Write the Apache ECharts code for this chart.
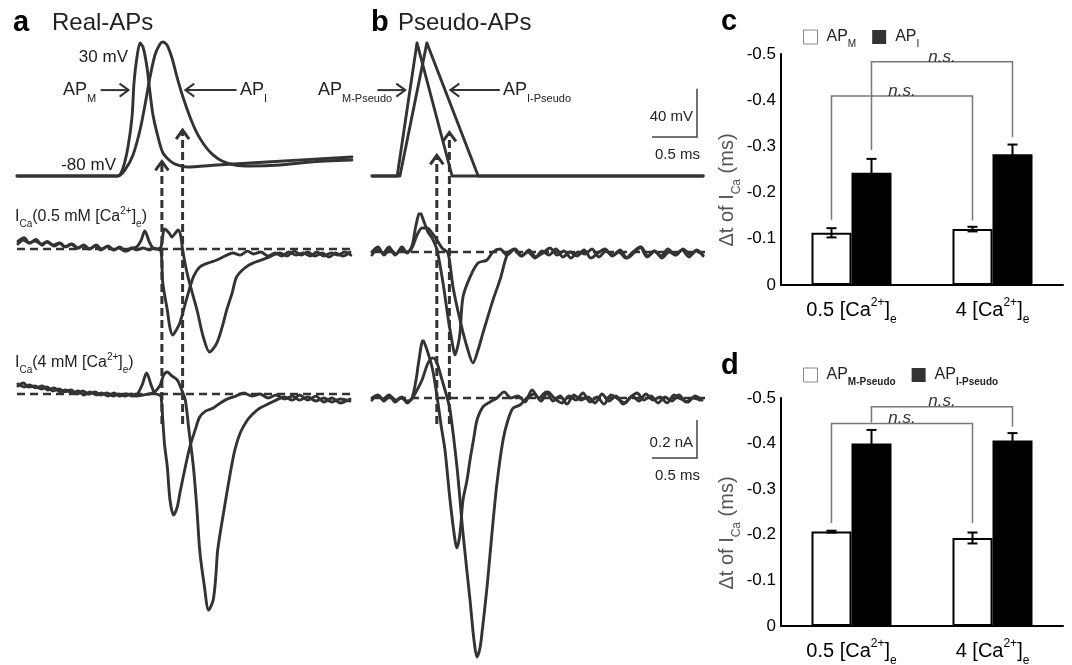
<!DOCTYPE html>
<html>
<head>
<meta charset="utf-8">
<title>Real vs pseudo action potentials and I_Ca timing</title>
<script src="https://cdn.jsdelivr.net/npm/echarts@6/dist/echarts.min.js"></script>
<style>
  html, body { margin: 0; padding: 0; background: #fff; }
  #chart { width: 1072px; height: 665px; }
</style>
</head>
<body>
<div id="chart"></div>
<script>
// ---------- Voltage traces (time in ms, membrane potential in mV) ----------
const apRealM = [[0,-80],[1.122,-80],[1.178,-73.4],[1.233,-56],[1.278,-31.2],[1.3,-3.1],[1.333,18.3],[1.367,29.9],[1.4,26.6],[1.444,10.1],[1.478,-11.4],[1.511,-29.6],[1.556,-44.5],[1.622,-61],[1.733,-69.3],[1.889,-72.6],[2.222,-70.9],[2.778,-68.4],[3.722,-64.3]];
const apRealI = [[0,-80],[1.122,-80],[1.2,-75],[1.289,-62.6],[1.367,-42],[1.422,-21.3],[1.478,1.8],[1.533,20],[1.589,29.1],[1.622,30.7],[1.667,28.3],[1.722,17.5],[1.778,1.8],[1.844,-14.7],[1.922,-31.2],[2.0,-44.5],[2.089,-55.2],[2.178,-62.6],[2.278,-67.6],[2.422,-70.9],[2.589,-71.7],[2.922,-70.9],[3.256,-68.4],[3.722,-66.8]];
const apPseudoM = [[0,-80],[0.28,-80],[0.5,30],[0.89,-80],[3.68,-80]];
const apPseudoI = [[0,-80],[0.31,-80],[0.61,30],[1.18,-80],[3.68,-80]];

// ---------- Ca2+ currents (time in ms, current in nA) ----------
const icaRealM05 = [[0.01,0.04],[0.08,0.06],[0.14,0.03],[0.21,0.05],[0.28,0.02],[0.34,0.04],[0.41,0.016],[0.48,0.03],[0.54,0.011],[0.61,0.026],[0.68,0.005],[0.74,0.021],[0.81,0],[0.88,0.021],[0.94,0],[1.01,0.016],[1.08,-0.005],[1.14,0.011],[1.21,-0.011],[1.28,0.005],[1.33,0.011],[1.38,0.047],[1.42,0.095],[1.47,0.037],[1.51,0.005],[1.56,0],[1.6,-0.011],[1.62,-0.179],[1.67,-0.321],[1.7,-0.416],[1.73,-0.453],[1.77,-0.426],[1.81,-0.389],[1.89,-0.253],[1.96,-0.147],[2.03,-0.095],[2.12,-0.074],[2.22,-0.058],[2.31,-0.037],[2.4,-0.021],[2.48,-0.032],[2.56,-0.011],[2.63,-0.026],[2.71,-0.016],[2.79,-0.037],[2.87,-0.021],[2.94,-0.037],[3.02,-0.016],[3.1,-0.032],[3.18,-0.021],[3.26,-0.037],[3.33,-0.016],[3.41,-0.037],[3.49,-0.021],[3.57,-0.032],[3.64,-0.016],[3.71,-0.032]];
const icaRealI05 = [[0.01,0.026],[0.07,0.047],[0.13,0.032],[0.2,0.042],[0.27,0.026],[0.33,0.037],[0.4,0.021],[0.47,0.032],[0.53,0.011],[0.6,0.026],[0.67,0.005],[0.73,0.016],[0.8,0],[0.87,0.016],[0.93,-0.005],[1.0,0.011],[1.07,-0.005],[1.13,0.005],[1.2,-0.011],[1.27,0.005],[1.33,-0.005],[1.4,0.005],[1.47,-0.005],[1.51,0.005],[1.56,0],[1.6,0.011],[1.64,0.105],[1.69,0.084],[1.72,0.063],[1.76,0.084],[1.79,0.1],[1.82,0.068],[1.84,-0.005],[1.9,-0.147],[2.0,-0.321],[2.07,-0.463],[2.14,-0.542],[2.22,-0.495],[2.28,-0.41],[2.33,-0.321],[2.39,-0.232],[2.44,-0.147],[2.53,-0.1],[2.62,-0.074],[2.78,-0.047],[2.92,-0.021],[3.0,-0.037],[3.08,-0.011],[3.16,-0.032],[3.23,-0.016],[3.31,-0.037],[3.39,-0.021],[3.47,-0.042],[3.54,-0.021],[3.62,-0.037],[3.7,-0.016]];
const icaRealM4 = [[0.01,0.053],[0.08,0.037],[0.14,0.047],[0.21,0.032],[0.28,0.042],[0.34,0.021],[0.41,0.032],[0.48,0.011],[0.54,0.021],[0.61,0.005],[0.68,0.016],[0.74,-0.005],[0.81,0.011],[0.88,-0.005],[0.94,0.005],[1.01,-0.011],[1.08,0.005],[1.14,-0.011],[1.21,0],[1.28,-0.011],[1.33,-0.005],[1.39,0.047],[1.44,0.111],[1.49,0.047],[1.53,0.005],[1.58,-0.005],[1.6,-0.011],[1.62,-0.137],[1.64,-0.268],[1.67,-0.384],[1.7,-0.558],[1.74,-0.637],[1.78,-0.595],[1.81,-0.521],[1.87,-0.384],[1.92,-0.279],[1.98,-0.189],[2.03,-0.121],[2.1,-0.089],[2.18,-0.074],[2.26,-0.047],[2.34,-0.026],[2.43,-0.011],[2.52,0.005],[2.61,-0.011],[2.7,0],[2.79,-0.021],[2.88,-0.005],[2.97,-0.026],[3.06,-0.011],[3.14,-0.032],[3.23,-0.016],[3.32,-0.037],[3.41,-0.021],[3.5,-0.042],[3.59,-0.026],[3.7,-0.037]];
const icaRealI4 = [[0.01,0.042],[0.07,0.058],[0.13,0.037],[0.2,0.042],[0.27,0.026],[0.33,0.037],[0.4,0.016],[0.47,0.026],[0.53,0.011],[0.6,0.021],[0.67,0],[0.73,0.016],[0.8,0],[0.87,0.011],[0.93,-0.005],[1.0,0.005],[1.07,-0.011],[1.13,0],[1.2,-0.011],[1.27,0],[1.33,-0.011],[1.4,-0.005],[1.47,0],[1.53,0.011],[1.59,0.047],[1.63,0.1],[1.67,0.116],[1.72,0.095],[1.78,0.074],[1.83,0.021],[1.87,-0.032],[1.91,-0.189],[1.96,-0.384],[2.0,-0.611],[2.03,-0.821],[2.08,-1.005],[2.13,-1.137],[2.18,-1.084],[2.21,-0.953],[2.23,-0.821],[2.3,-0.611],[2.37,-0.416],[2.42,-0.295],[2.48,-0.205],[2.56,-0.137],[2.62,-0.105],[2.7,-0.074],[2.79,-0.053],[2.88,-0.032],[2.97,-0.016],[3.06,-0.032],[3.14,-0.005],[3.23,-0.032],[3.32,-0.011],[3.41,-0.042],[3.5,-0.021],[3.59,-0.047],[3.7,-0.026]];
const icaPseudoM05 = [[0,0],[0.067,0.026],[0.133,-0.016],[0.2,0.016],[0.267,-0.011],[0.333,0.026],[0.389,-0.005],[0.444,0.032],[0.489,0.142],[0.533,0.211],[0.578,0.158],[0.622,0.105],[0.667,0.074],[0.722,0.011],[0.789,-0.163],[0.844,-0.342],[0.9,-0.5],[0.922,-0.542],[0.956,-0.489],[0.978,-0.426],[1.011,-0.237],[1.089,-0.132],[1.178,-0.058],[1.278,-0.042],[1.344,0],[1.422,0.016],[1.5,-0.016],[1.578,0.011],[1.656,-0.021],[1.733,0],[1.811,-0.032],[1.889,0.005],[1.967,-0.016],[2.044,0.016],[2.122,-0.026],[2.2,0],[2.278,-0.021],[2.356,0.011],[2.433,-0.032],[2.511,-0.005],[2.589,0.016],[2.667,-0.021],[2.744,0],[2.822,-0.032],[2.9,0],[2.978,0.026],[3.056,-0.026],[3.133,0.005],[3.211,-0.021],[3.289,0.016],[3.367,-0.016],[3.444,0.011],[3.522,-0.026],[3.6,0.005],[3.678,-0.016]];
const icaPseudoI05 = [[0,-0.016],[0.056,0.011],[0.122,-0.005],[0.189,0.026],[0.256,-0.016],[0.322,0.011],[0.389,0],[0.444,0.021],[0.5,0.089],[0.556,0.126],[0.611,0.126],[0.667,0.1],[0.722,0.063],[0.778,0.021],[0.844,-0.005],[0.9,-0.184],[0.978,-0.358],[1.056,-0.5],[1.122,-0.584],[1.178,-0.516],[1.233,-0.426],[1.344,-0.253],[1.422,-0.147],[1.511,-0.005],[1.589,0.016],[1.667,-0.021],[1.744,0.011],[1.822,-0.026],[1.9,-0.005],[1.978,0.021],[2.056,-0.016],[2.133,0.005],[2.211,-0.032],[2.289,0],[2.367,-0.011],[2.444,0.016],[2.522,-0.026],[2.6,0.005],[2.678,-0.016],[2.756,0.011],[2.833,-0.032],[2.911,-0.005],[2.989,0.026],[3.067,-0.021],[3.144,0.005],[3.222,-0.032],[3.3,0],[3.378,-0.016],[3.456,0.016],[3.533,-0.011],[3.611,0.011],[3.678,-0.021]];
const icaPseudoM4 = [[0,0],[0.067,0.016],[0.133,-0.016],[0.2,0.011],[0.267,-0.011],[0.333,0.005],[0.389,-0.026],[0.444,0],[0.489,0.095],[0.522,0.2],[0.567,0.305],[0.6,0.268],[0.622,0.237],[0.667,0.163],[0.7,0.079],[0.733,-0.026],[0.767,-0.142],[0.811,-0.274],[0.867,-0.537],[0.922,-0.747],[0.944,-0.789],[0.978,-0.711],[1.011,-0.537],[1.056,-0.432],[1.089,-0.326],[1.133,-0.205],[1.167,-0.116],[1.233,-0.047],[1.311,-0.021],[1.389,0],[1.467,0.032],[1.544,0],[1.622,0.011],[1.7,-0.021],[1.778,0.042],[1.856,0],[1.933,0.032],[2.011,-0.016],[2.089,0.011],[2.167,-0.032],[2.244,0.016],[2.322,-0.011],[2.4,0.005],[2.478,-0.026],[2.556,0.021],[2.633,-0.016],[2.711,0.011],[2.789,-0.032],[2.867,0],[2.944,0.026],[3.022,-0.011],[3.1,0.011],[3.178,-0.026],[3.256,0.005],[3.333,-0.016],[3.411,0.016],[3.489,-0.021],[3.567,0],[3.644,-0.011]];
const icaPseudoI4 = [[0,-0.011],[0.056,0.011],[0.122,-0.005],[0.189,0.016],[0.256,-0.021],[0.322,0],[0.389,-0.016],[0.444,-0.005],[0.489,0.032],[0.556,0.095],[0.622,0.184],[0.678,0.211],[0.722,0.184],[0.778,0.095],[0.833,0.005],[0.867,-0.063],[0.944,-0.363],[1.011,-0.711],[1.089,-1.063],[1.133,-1.274],[1.167,-1.363],[1.2,-1.316],[1.222,-1.237],[1.278,-0.995],[1.333,-0.711],[1.389,-0.447],[1.456,-0.221],[1.511,-0.116],[1.567,-0.053],[1.644,-0.037],[1.722,0],[1.8,0.021],[1.878,-0.016],[1.956,0.032],[2.033,-0.005],[2.111,-0.026],[2.189,0.011],[2.267,-0.011],[2.344,0.026],[2.422,-0.021],[2.5,0.005],[2.578,-0.032],[2.656,0.016],[2.733,-0.005],[2.811,-0.026],[2.889,0.011],[2.967,-0.016],[3.044,0.021],[3.122,-0.011],[3.2,0.005],[3.278,-0.026],[3.356,0.016],[3.433,-0.005],[3.511,-0.021],[3.589,0.011],[3.667,-0.011]];
const zeroCurrent = [[0,0],[3.72,0]];

// onset of I_Ca (ms) and the potential at which each onset arrow points (mV)
const onsetReal = [1.61, 1.84];
const onsetRealTip = [-68, -42];
const onsetPseudo = [0.72, 0.86];
const onsetPseudoTip = [-63, -44];

// ---------- Summary: Δt of I_Ca (ms), mean and SEM ----------
const conditions = ['0.5', '4'];
const dtApM = [-0.113, -0.121];
const semApM = [0.010, 0.005];
const dtApI = [-0.243, -0.283];
const semApI = [0.030, 0.021];
const dtPseudoM = [-0.207, -0.193];
const semPseudoM = [0.002, 0.012];
const dtPseudoI = [-0.400, -0.407];
const semPseudoI = [0.030, 0.016];
// comparison brackets: [left leg end, bracket top, right leg end]
const nsRealM = [-0.141, -0.409, -0.140];
const nsRealI = [-0.292, -0.483, -0.320];
const nsPseudoM = [-0.226, -0.444, -0.226];
const nsPseudoI = [-0.446, -0.481, -0.437];

// ---------- styling ----------
const F = "'Liberation Sans', Arial, Helvetica, sans-serif";
const INK = '#333';
const TXT = '#222';

function richFill(size, color) {
  const sub = Math.round(size * 0.6);
  return {
    m: { fontSize: size, fontFamily: F, fill: color, verticalAlign: 'middle' },
    s: { fontSize: sub, fontFamily: F, fill: color, verticalAlign: 'middle', padding: [Math.round(size * 0.95), 0, 0, 0] },
    p: { fontSize: sub, fontFamily: F, fill: color, verticalAlign: 'middle', padding: [0, 0, Math.round(size * 0.75), 0] }
  };
}
function richColor(size, color, subBold) {
  const sub = Math.round(size * 0.6);
  return {
    m: { fontSize: size, fontFamily: F, color: color, verticalAlign: 'middle' },
    s: { fontSize: sub, fontFamily: F, color: color, fontWeight: subBold ? 'bold' : 'normal', verticalAlign: 'middle', padding: [Math.round(size * 0.95), 0, 0, 0] },
    p: { fontSize: sub, fontFamily: F, color: color, verticalAlign: 'middle', padding: [0, 0, Math.round(size * 0.75), 0] }
  };
}

function txt(x, y, text, size, align, opts) {
  opts = opts || {};
  return {
    type: 'text', x: x, y: y, silent: true, z: 50, rotation: opts.rotation || 0,
    style: {
      text: text, rich: richFill(size, opts.color || TXT),
      fontSize: size, fontFamily: F, fill: opts.color || TXT,
      fontWeight: opts.bold ? 'bold' : 'normal',
      align: align, textAlign: align, verticalAlign: 'middle', textVerticalAlign: 'middle'
    }
  };
}

// grid indices
const G = { aAP: 0, aI05: 1, aI4: 2, bAP: 3, bI05: 4, bI4: 5, c: 6, d: 7 };
const MSPX = 90;       // 0.5 ms = 45 px
const MVPX = 1.21;     // 40 mV = 48 px
const NAPX = 190;      // 0.2 nA = 38 px
const T_MAX = 335 / MSPX;

function traceGrid(left, zeroPx, yMin, yMax, pxPerUnit) {
  return {
    grid: { left: left, top: zeroPx - yMax * pxPerUnit, width: 335, height: (yMax - yMin) * pxPerUnit, outerBoundsMode: 'none', containLabel: false },
    yMin: yMin, yMax: yMax
  };
}
const V_ZERO_A = 176 - 80 * MVPX; // pixel of 0 mV
const tg = [
  traceGrid(17, V_ZERO_A, -290, 40, MVPX),
  traceGrid(17, 249, -0.6, 0.2, NAPX),
  traceGrid(17, 394, -1.3, 0.2, NAPX),
  traceGrid(372, V_ZERO_A, -290, 40, MVPX),
  traceGrid(372, 252, -0.6, 0.2, NAPX),
  traceGrid(372, 398, -1.4, 0.3, NAPX)
];

const grids = tg.map(g => g.grid).concat([
  { left: 781, top: 54, width: 282, height: 231, outerBoundsMode: 'none', containLabel: false },
  { left: 781, top: 398, width: 282, height: 228, outerBoundsMode: 'none', containLabel: false }
]);

const xAxes = tg.map((g, i) => ({ gridIndex: i, type: 'value', min: 0, max: T_MAX, show: false }));
const yAxes = tg.map((g, i) => ({ gridIndex: i, type: 'value', min: g.yMin, max: g.yMax, show: false }));

const xRich = richColor(20, '#000');
function barAxes(gi) {
  xAxes.push({
    gridIndex: gi, type: 'category', data: conditions,
    axisLine: { show: true, onZero: false, lineStyle: { color: '#000', width: 2 } },
    axisTick: { show: false },
    axisLabel: {
      interval: 0, hideOverlap: false,
      margin: 10, fontSize: 20, fontFamily: F, color: '#000', rich: xRich,
      formatter: v => `{m|${v} [Ca}{p|2+}{m|]}{s|e}`
    }
  });
  yAxes.push({
    gridIndex: gi, type: 'value', inverse: true, min: -0.5, max: 0, interval: 0.1,
    axisLine: { show: true, lineStyle: { color: '#000', width: 2 } },
    axisTick: { show: false },
    splitLine: { show: false },
    axisLabel: {
      margin: 5, fontSize: 17, fontFamily: F, color: '#000',
      formatter: v => (Math.abs(v) < 1e-9 ? '0' : v.toFixed(1))
    }
  });
}
barAxes(G.c);
barAxes(G.d);

// ---------- series ----------
const series = [];
function trace(data, gi, smooth) {
  series.push({
    type: 'line', xAxisIndex: gi, yAxisIndex: gi, data: data,
    symbol: 'none', smooth: smooth, silent: true, animation: false, z: 3,
    lineStyle: { color: INK, width: 2.9, cap: 'round', join: 'round' }
  });
}
function zeroLine(gi) {
  series.push({
    type: 'line', xAxisIndex: gi, yAxisIndex: gi, data: zeroCurrent,
    symbol: 'none', silent: true, animation: false, z: 2,
    lineStyle: { color: INK, width: 2.6, type: [8, 5] }
  });
}

zeroLine(G.aI05); zeroLine(G.aI4); zeroLine(G.bI05); zeroLine(G.bI4);
trace(apRealM, G.aAP, 0.25);
trace(apRealI, G.aAP, 0.25);
trace(apPseudoM, G.bAP, false);
trace(apPseudoI, G.bAP, false);
trace(icaRealM05, G.aI05, 0.3);
trace(icaRealI05, G.aI05, 0.3);
trace(icaRealM4, G.aI4, 0.3);
trace(icaRealI4, G.aI4, 0.3);
trace(icaPseudoM05, G.bI05, 0.3);
trace(icaPseudoI05, G.bI05, 0.3);
trace(icaPseudoM4, G.bI4, 0.3);
trace(icaPseudoI4, G.bI4, 0.3);

// arrows: [t0, v0, t1, v1] with an open chevron at (t1, v1)
function arrowSeries(gi, data, dashed, width) {
  series.push({
    type: 'custom', xAxisIndex: gi, yAxisIndex: gi, data: data, silent: true, animation: false, z: 10,
    renderItem: function (params, api) {
      const a = api.coord([api.value(0), api.value(1)]);
      const b = api.coord([api.value(2), api.value(3)]);
      const ang = Math.atan2(b[1] - a[1], b[0] - a[0]);
      const ux = Math.cos(ang), uy = Math.sin(ang);
      const L = 9, W = 6.5;
      const p1 = [b[0] - ux * L - uy * W, b[1] - uy * L + ux * W];
      const p2 = [b[0] - ux * L + uy * W, b[1] - uy * L - ux * W];
      return {
        type: 'group', children: [
          { type: 'line', shape: { x1: a[0], y1: a[1], x2: b[0] - ux * 1.5, y2: b[1] - uy * 1.5 },
            style: { stroke: INK, lineWidth: width, lineDash: dashed ? [8, 4] : null, fill: null } },
          { type: 'polyline', shape: { points: [p1, b, p2] },
            style: { stroke: INK, lineWidth: width, fill: null, lineJoin: 'miter' } }
        ]
      };
    }
  });
}
const ONSET_FOOT = -285; // mV level at which the onset markers start (below the current traces)
arrowSeries(G.aAP, onsetReal.map((t, i) => [t, ONSET_FOOT, t, onsetRealTip[i]]), true, 3);
arrowSeries(G.bAP, onsetPseudo.map((t, i) => [t, ONSET_FOOT, t, onsetPseudoTip[i]]), true, 3);
// labels pointing at the action potentials
arrowSeries(G.aAP, [[0.93, -9, 1.24, -9], [2.44, -9, 1.87, -9]], false, 2);
arrowSeries(G.bAP, [[0.06, -9, 0.37, -9], [1.42, -9, 0.87, -9]], false, 2);

// scale bars: [t0, v0, dt, dv, unit]
function scaleBar(gi, data) {
  series.push({
    type: 'custom', xAxisIndex: gi, yAxisIndex: gi, data: data, silent: true, animation: false, z: 10,
    renderItem: function (params, api) {
      const t0 = api.value(0), v0 = api.value(1), dt = api.value(2), dv = api.value(3);
      const unit = data[params.dataIndex][4];
      const o = api.coord([t0, v0]);
      const c = api.coord([t0 + dt, v0]);
      const u = api.coord([t0 + dt, v0 + dv]);
      return {
        type: 'group', children: [
          { type: 'polyline', shape: { points: [o, c, u] }, style: { stroke: '#444', lineWidth: 1.5, fill: null } },
          { type: 'text', x: c[0] - 4, y: (c[1] + u[1]) / 2 + 4,
            style: { text: dv + ' ' + unit, fontSize: 15, fontFamily: F, fill: TXT, align: 'right', verticalAlign: 'middle' } },
          { type: 'text', x: (o[0] + c[0]) / 2 + 3, y: c[1] + 18,
            style: { text: dt + ' ms', fontSize: 15, fontFamily: F, fill: TXT, align: 'center', verticalAlign: 'middle' } }
        ]
      };
    }
  });
}
scaleBar(G.bAP, [[3.111, -47.8, 0.5, 40, 'mV']]);
scaleBar(G.bI4, [[3.111, -0.316, 0.5, 0.2, 'nA']]);

// ---------- bar charts ----------
const BAR_W = 40;
function bars(gi, name, values, filled) {
  series.push({
    name: name, type: 'bar', xAxisIndex: gi, yAxisIndex: gi, data: values,
    barWidth: BAR_W, barGap: '0%', animation: false, z: 4,
    itemStyle: filled ? { color: '#000' } : { color: '#fff', borderColor: '#000', borderWidth: 2 }
  });
}
function errorBars(gi, values, sem, side) {
  series.push({
    type: 'custom', xAxisIndex: gi, yAxisIndex: gi, silent: true, animation: false, z: 6,
    data: values.map((v, i) => [i, v, sem[i]]),
    renderItem: function (params, api) {
      const i = api.value(0), v = api.value(1), e = api.value(2);
      const x = api.coord([i, 0])[0] + side * BAR_W / 2;
      const y1 = api.coord([i, v - e])[1];
      const y2 = api.coord([i, v + e])[1];
      const cap = 5;
      return {
        type: 'group', children: [
          { type: 'line', shape: { x1: x, y1: y1, x2: x, y2: y2 }, style: { stroke: '#000', lineWidth: 2 } },
          { type: 'line', shape: { x1: x - cap, y1: y1, x2: x + cap, y2: y1 }, style: { stroke: '#000', lineWidth: 2 } },
          { type: 'line', shape: { x1: x - cap, y1: y2, x2: x + cap, y2: y2 }, style: { stroke: '#000', lineWidth: 2 } }
        ]
      };
    }
  });
}
function bracket(gi, levels, side) {
  series.push({
    type: 'custom', xAxisIndex: gi, yAxisIndex: gi, silent: true, animation: false, z: 5,
    data: [[0, levels[0], levels[1], 1, levels[2]]],
    renderItem: function (params, api) {
      const off = side * BAR_W / 2;
      const xl = api.coord([api.value(0), 0])[0] + off;
      const xr = api.coord([api.value(3), 0])[0] + off;
      const yl = api.coord([0, api.value(1)])[1];
      const yt = api.coord([0, api.value(2)])[1];
      const yr = api.coord([0, api.value(4)])[1];
      return {
        type: 'group', children: [
          { type: 'polyline', shape: { points: [[xl, yl], [xl, yt], [xr, yt], [xr, yr]] },
            style: { stroke: '#777', lineWidth: 1.5, fill: null } },
          { type: 'text', x: (xl + xr) / 2, y: yt - 5,
            style: { text: 'n.s.', fontSize: 17, fontStyle: 'italic', fontFamily: F, fill: '#333', align: 'center', verticalAlign: 'middle' } }
        ]
      };
    }
  });
}

bars(G.c, 'AP_M', dtApM, false);
bars(G.c, 'AP_I', dtApI, true);
errorBars(G.c, dtApM, semApM, -1);
errorBars(G.c, dtApI, semApI, 1);
bracket(G.c, nsRealM, -1);
bracket(G.c, nsRealI, 1);

bars(G.d, 'AP_M-Pseudo', dtPseudoM, false);
bars(G.d, 'AP_I-Pseudo', dtPseudoI, true);
errorBars(G.d, dtPseudoM, semPseudoM, -1);
errorBars(G.d, dtPseudoI, semPseudoI, 1);
bracket(G.d, nsPseudoM, -1);
bracket(G.d, nsPseudoI, 1);

const legendNames = {
  'AP_M': '{m|AP}{s|M}', 'AP_I': '{m|AP}{s|I}',
  'AP_M-Pseudo': '{m|AP}{s|M-Pseudo}', 'AP_I-Pseudo': '{m|AP}{s|I-Pseudo}'
};
function legendFor(names, top, gap, subBold) {
  return {
    data: [
      { name: names[0], itemStyle: { color: '#fff', borderColor: '#888', borderWidth: 1 } },
      { name: names[1], itemStyle: { color: '#333' } }
    ],
    left: 803, top: top, padding: 0, icon: 'rect', itemWidth: 14, itemHeight: 14, itemGap: gap,
    selectedMode: false,
    formatter: n => legendNames[n],
    textStyle: { padding: [0, 0, 0, 4], rich: richColor(16, TXT, subBold) }
  };
}

// ---------- text annotations ----------
const yTitle = '{m|\u0394t of I}{s|Ca}{m| (ms)}';
const graphics = [
  txt(13, 23, 'a', 29, 'left', { bold: true, color: '#000' }),
  txt(52, 23, 'Real-APs', 24, 'left'),
  txt(371, 23, 'b', 29, 'left', { bold: true, color: '#000' }),
  txt(398, 23, 'Pseudo-APs', 24, 'left'),
  txt(721, 22, 'c', 29, 'left', { bold: true, color: '#000' }),
  txt(721, 366, 'd', 29, 'left', { bold: true, color: '#000' }),
  txt(128, 57, '30 mV', 17, 'right'),
  txt(116, 165, '-80 mV', 17, 'right'),
  txt(63, 90, '{m|AP}{s|M}', 18, 'left'),
  txt(240, 90, '{m|AP}{s|I}', 18, 'left'),
  txt(318, 90, '{m|AP}{s|M-Pseudo}', 18, 'left'),
  txt(503, 90, '{m|AP}{s|I-Pseudo}', 18, 'left'),
  txt(15, 217, '{m|I}{s|Ca}{m|(0.5 mM [Ca}{p|2+}{m|]}{s|e}{m|)}', 16, 'left'),
  txt(15, 363, '{m|I}{s|Ca}{m|(4 mM [Ca}{p|2+}{m|]}{s|e}{m|)}', 16, 'left'),
  txt(727, 190, yTitle, 20, 'center', { color: '#555', rotation: Math.PI / 2 }),
  txt(727, 533, yTitle, 20, 'center', { color: '#555', rotation: Math.PI / 2 })
];

const chart = echarts.init(document.getElementById('chart'), null, { renderer: 'canvas' });
chart.setOption({
  backgroundColor: '#fff',
  animation: false,
  grid: grids,
  xAxis: xAxes,
  yAxis: yAxes,
  legend: [
    legendFor(['AP_M', 'AP_I'], 29, 16, false),
    legendFor(['AP_M-Pseudo', 'AP_I-Pseudo'], 367, 16, true)
  ],
  series: series,
  graphic: graphics
});
</script>
</body>
</html>
